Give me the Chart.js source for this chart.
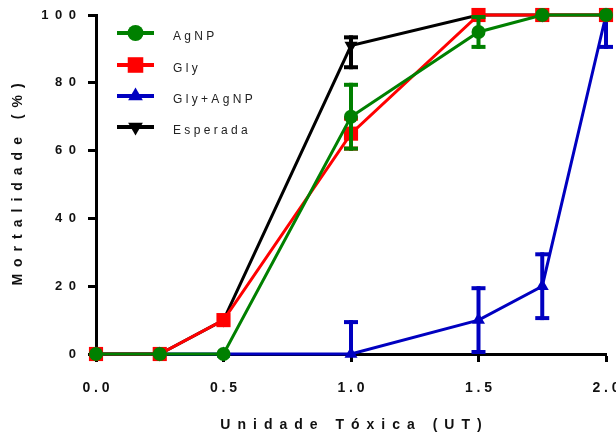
<!DOCTYPE html>
<html>
<head>
<meta charset="utf-8">
<script src="https://cdn.jsdelivr.net/npm/chart.js@4/dist/chart.umd.min.js"></script>
<style>
  html, body { margin: 0; padding: 0; background: #fff; }
  #wrap { width: 616px; height: 435px; }
</style>
</head>
<body>
<div id="wrap"><canvas id="myChart" width="616" height="435"></canvas></div>
<script>
// dados
const ut = [0, 0.25, 0.5, 1.0, 1.5, 1.75, 2.0];
const agnp = [0, 0, 0, 70, 95, 100, 100];
const gly = [0, 0, 10, 65, 100, 100, 100];
const glyAgnp = [0, 0, 0, 0, 10, 20, 100];
const esperada = [0, 0, 10, 91, 100, 100, 100];

// barras de erro (acima / abaixo)
const agnpSd = [0, 0, 0, 10, 5, 0, 0];
const glySd = [0, 0, 0, 5, 0, 0, 0];
const glyAgnpSd = [0, 0, 0, 10, 10, 10, 10];
const esperadaSdUp = [0, 0, 0, 3, 0, 0, 0];
const esperadaSdDown = [0, 0, 0, 7, 0, 0, 0];

const xTicks = [0, 0.5, 1.0, 1.5, 2.0];
const yTicks = [0, 20, 40, 60, 80, 100];

const FONT = "'Liberation Sans', Arial, sans-serif";
const spaced = (s, sep) => String(s).split('').join(sep || ' ');
const EN = '\u2002';
const pts = ys => ys.map((y, i) => ({ x: ut[i], y: y }));

function serie(label, ys, up, down, color, style, radius, rotation) {
  return {
    label: label,
    data: pts(ys),
    errUp: up,
    errDown: down,
    borderColor: color,
    backgroundColor: color,
    borderWidth: 3,
    pointStyle: style,
    pointRadius: radius,
    pointRotation: rotation || 0,
    pointBorderWidth: 0,
    pointBackgroundColor: color,
    tension: 0,
    clip: false
  };
}

// barras de erro desenhadas logo depois de cada série
const errorBars = {
  id: 'errorBars',
  afterDatasetDraw(chart, args) {
    const ds = chart.data.datasets[args.index];
    const meta = args.meta;
    const ys = chart.scales.y;
    const ctx = chart.ctx;
    ctx.save();
    ctx.strokeStyle = ds.borderColor;
    ctx.lineWidth = 4;
    ds.data.forEach((p, i) => {
      const up = ds.errUp[i], down = ds.errDown[i];
      if (!up && !down) return;
      const x = meta.data[i].x;
      const hi = p.y + up, lo = p.y - down;
      const yHi = ys.getPixelForValue(Math.min(hi, ys.max));
      const yLo = ys.getPixelForValue(Math.max(lo, ys.min));
      ctx.beginPath();
      ctx.moveTo(x, yHi);
      ctx.lineTo(x, yLo);
      ctx.stroke();
      const cap = 7;
      if (hi <= ys.max) {
        ctx.beginPath(); ctx.moveTo(x - cap, yHi + 2); ctx.lineTo(x + cap, yHi + 2); ctx.stroke();
      }
      if (lo >= ys.min) {
        ctx.beginPath(); ctx.moveTo(x - cap, yLo - 2); ctx.lineTo(x + cap, yLo - 2); ctx.stroke();
      }
    });
    ctx.restore();
  }
};

// legenda dentro da área do gráfico, como no original
const insideLegend = {
  id: 'insideLegend',
  afterDraw(chart) {
    const ctx = chart.ctx;
    const rows = [33, 65, 96, 127];
    ctx.save();
    chart.data.datasets.forEach((ds, i) => {
      const y = rows[i];
      ctx.strokeStyle = ds.borderColor;
      ctx.lineWidth = 4;
      ctx.beginPath();
      ctx.moveTo(117, y);
      ctx.lineTo(154, y);
      ctx.stroke();
      ctx.fillStyle = ds.borderColor;
      Chart.helpers.drawPoint(ctx, {
        pointStyle: ds.pointStyle,
        radius: ds.pointRadius + 1,
        rotation: ds.pointRotation,
        borderWidth: 0
      }, 135.5, y);
      ctx.fillStyle = '#222';
      ctx.font = '12px ' + FONT;
      ctx.textBaseline = 'middle';
      ctx.textAlign = 'left';
      ctx.fillText(spaced(ds.label), 173, y + 4);
    });
    ctx.restore();
  }
};

const chartArea = document.getElementById('myChart').getContext('2d');
const myChart = new Chart(chartArea, {
  type: 'line',
  data: {
    datasets: [
      serie('AgNP', agnp, agnpSd, agnpSd, '#008000', 'circle', 7),
      serie('Gly', gly, glySd, glySd, '#ff0000', 'rect', 10),
      serie('Gly+AgNP', glyAgnp, glyAgnpSd, glyAgnpSd, '#0000c0', 'triangle', 7.5),
      serie('Esperada', esperada, esperadaSdUp, esperadaSdDown, '#000000', 'triangle', 7.5, 180)
    ]
  },
  plugins: [errorBars, insideLegend],
  options: {
    responsive: false,
    animation: false,
    layout: { padding: { top: 15, right: 10, bottom: 0, left: 0 } },
    plugins: { legend: { display: false }, tooltip: { enabled: false } },
    scales: {
      x: {
        type: 'linear',
        min: 0,
        max: 2,
        afterFit: s => { s.height = 81; s.paddingLeft = 0; s.paddingRight = 0; },
        afterBuildTicks: s => { s.ticks = xTicks.map(v => ({ value: v })); },
        ticks: {
          callback: v => spaced(v.toFixed(1)),
          color: '#111',
          font: { family: FONT, size: 14, weight: 'bold' },
          padding: 18,
          maxRotation: 0
        },
        grid: { drawOnChartArea: false, tickLength: 8, tickWidth: 3, tickColor: '#000' },
        border: { color: '#000', width: 3 },
        title: {
          display: true,
          text: spaced('Unidade Tóxica (UT)', EN),
          color: '#111',
          font: { family: FONT, size: 14, weight: 'bold' },
          padding: { top: 0, bottom: 1 }
        }
      },
      y: {
        min: 0,
        max: 100,
        afterFit: s => { s.width = 96; s.paddingTop = 0; s.paddingBottom = 0; },
        afterBuildTicks: s => { s.ticks = yTicks.map(v => ({ value: v })); },
        ticks: {
          callback: v => spaced(v, EN),
          color: '#111',
          font: { family: FONT, size: 13, weight: 'bold' },
          padding: 12
        },
        grid: { drawOnChartArea: false, tickLength: 8, tickWidth: 3, tickColor: '#000' },
        border: { color: '#000', width: 3 },
        title: {
          display: true,
          text: spaced('Mortalidade (%)', EN),
          color: '#111',
          font: { family: FONT, size: 14, weight: 'bold' },
          padding: { top: 10, bottom: 0 }
        }
      }
    }
  }
});
</script>
</body>
</html>
